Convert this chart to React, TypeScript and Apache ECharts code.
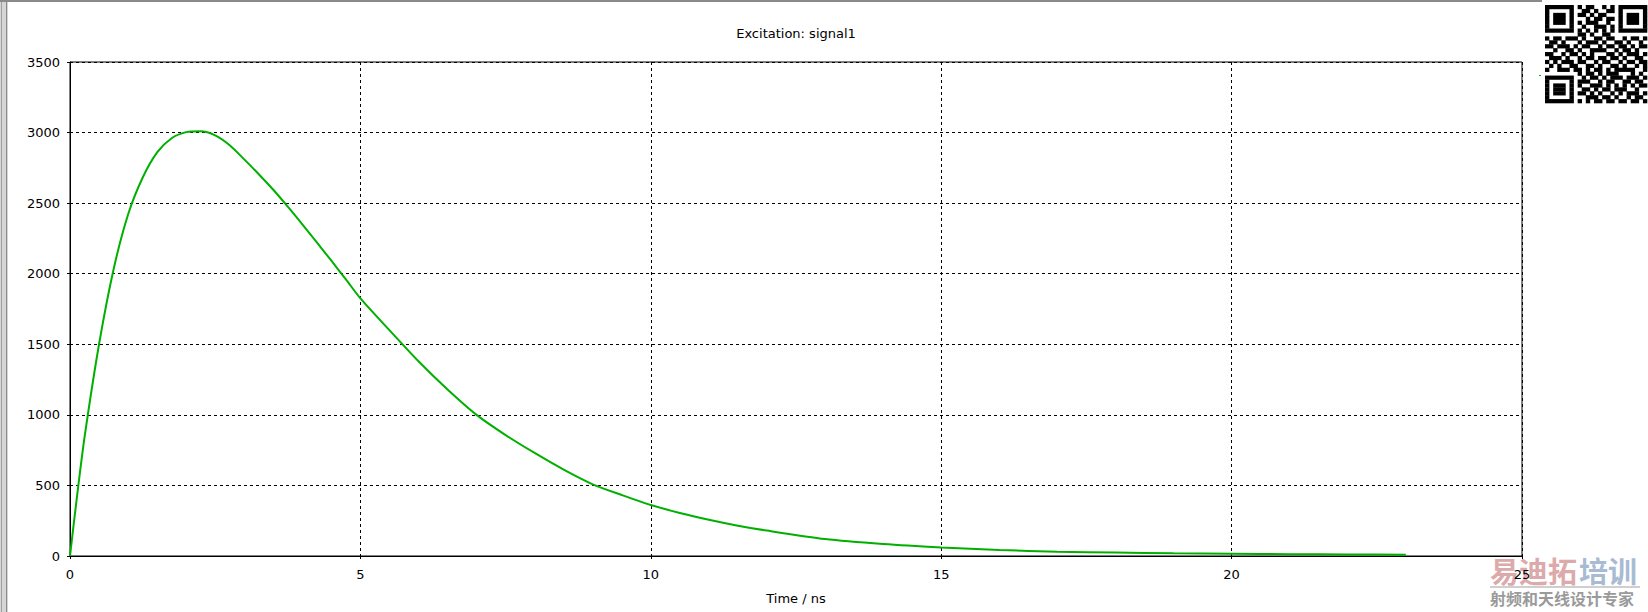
import React, { useEffect, useRef } from "react";
import * as echarts from "echarts";

const titleText = "Excitation: signal1";
const xAxisName = "Time / ns";
const xMin = 0;
const xMax = 25;
const xStep = 5;
const yMin = 0;
const yMax = 3500;
const yStep = 500;

const timeNs = [
  0, 0.12, 0.25, 0.5, 0.75, 1.0, 1.25, 1.5, 1.75, 2.0, 2.25, 2.5, 2.75, 3.0, 3.25, 3.5, 3.75, 4.0, 4.25, 4.5,
  4.75, 5.0, 5.5, 6.0, 6.5, 7.0, 7.5, 8.0, 8.5, 9.0, 9.5, 10, 10.5, 11, 11.5, 12, 13, 14, 15, 16, 17, 18, 19,
  20, 21, 22, 23,
];
const signal1 = [
  0, 420, 840, 1500, 2030, 2420, 2680, 2860, 2960, 3003, 3009, 2980, 2910, 2810, 2705, 2595, 2475, 2350, 2222,
  2092, 1960, 1825, 1600, 1380, 1180, 1000, 857, 730, 612, 508, 432, 361, 305, 257, 215, 180, 120, 85, 61, 43,
  30, 24, 19, 16, 13, 11, 9,
];

const watermarkMain1 = "易迪拓";
const watermarkMain2 = "培训";
const watermarkSub = "射频和天线设计专家";

const qrRows = [
  "1111111010110010101111111",
  "1000001001101001101000001",
  "1011101011010110001011101",
  "1011101000101101101011101",
  "1011101010111001001011101",
  "1000001001001110101000001",
  "1111111010101010101111111",
  "0000000011010011000000000",
  "1011011101001101100101101",
  "0110100010111010011010010",
  "1101110101100101101101011",
  "0010011010011110010110100",
  "1100101101010001101011101",
  "0111010010110110110100110",
  "1010111011001011001011011",
  "0101001100110100110100101",
  "1001110110101101011111001",
  "0000000010110101110001010",
  "1111111001011010111011101",
  "1000001011100101100110110",
  "1011101010011101010101011",
  "1011101001101011011100100",
  "1011101011010100101011101",
  "1000001000111011010010110",
  "1111111010101101101101101",
];

function qrGraphics() {
  const out: any[] = [];
  const x0 = 1545;
  const y0 = 5;
  const cw = 102 / 25;
  const ch = 98 / 25;
  qrRows.forEach((row, r) => {
    let c = 0;
    while (c < row.length) {
      if (row[c] === "1") {
        let e = c;
        while (e < row.length && row[e] === "1") e++;
        out.push({
          type: "rect",
          shape: { x: x0 + c * cw, y: y0 + r * ch, width: (e - c) * cw + 0.3, height: ch + 0.3 },
          style: { fill: "#000" },
          silent: true,
        });
        c = e;
      } else c++;
    }
  });
  return out;
}

export default function App() {
  const ref = useRef<HTMLDivElement>(null);
  useEffect(() => {
    if (!ref.current) return;
    const chart = echarts.init(ref.current, null, { renderer: "svg" });
    const font = "DejaVu Sans";
    chart.setOption({
      animation: false,
      backgroundColor: "#ffffff",
      grid: {
        left: 70,
        right: 126,
        top: 62,
        bottom: 56,
        show: true,
        borderColor: "#000",
        borderWidth: 1,
        backgroundColor: "#fff",
        outerBoundsMode: "none",
      },
      xAxis: {
        type: "value",
        min: xMin,
        max: xMax,
        interval: xStep,
        name: xAxisName,
        nameLocation: "middle",
        nameGap: 36,
        nameTextStyle: { color: "#000", fontFamily: font, fontSize: 13 },
        axisLine: { show: true, lineStyle: { color: "#000", width: 1 } },
        axisTick: { show: true, length: 3, lineStyle: { color: "#000" } },
        axisLabel: {
          color: "#000",
          fontFamily: font,
          fontSize: 13,
          margin: 12,
          formatter: (v: number) => String(v),
        },
        splitLine: { show: true, lineStyle: { color: "#000", width: 1, type: [3, 3] } },
      },
      yAxis: {
        type: "value",
        min: yMin,
        max: yMax,
        interval: yStep,
        axisLine: { show: true, lineStyle: { color: "#000", width: 1 } },
        axisTick: { show: true, length: 3, lineStyle: { color: "#000" } },
        axisLabel: {
          color: "#000",
          fontFamily: font,
          fontSize: 13,
          margin: 10,
          formatter: (v: number) => String(v),
        },
        splitLine: { show: true, lineStyle: { color: "#000", width: 1, type: [3, 3] } },
      },
      series: [
        {
          type: "line",
          name: "signal1",
          data: timeNs.map((t, i) => [t, signal1[i]]),
          smooth: 0.25,
          showSymbol: false,
          lineStyle: { color: "#00b000", width: 2 },
          z: 5,
        },
      ],
      graphic: [
        { type: "rect", shape: { x: 0, y: 0, width: 8, height: 612 }, style: { fill: "#d6d6d6" }, silent: true },
        { type: "rect", shape: { x: 1, y: 0, width: 1, height: 612 }, style: { fill: "#a0a0a0" }, silent: true },
        { type: "rect", shape: { x: 6, y: 0, width: 1, height: 612 }, style: { fill: "#8a8a8a" }, silent: true },
        { type: "rect", shape: { x: 0, y: 0, width: 1542, height: 2 }, style: { fill: "#8a8a8a" }, silent: true },
        {
          type: "text",
          x: 796,
          y: 33,
          style: {
            text: titleText,
            fill: "#000",
            font: `13px "${font}"`,
            textAlign: "center",
            textVerticalAlign: "middle",
          },
        },
        { type: "rect", shape: { x: 1539, y: 75, width: 2, height: 1 }, style: { fill: "#00b000" }, silent: true },
        ...qrGraphics(),
        {
          type: "text",
          x: 1490,
          y: 570,
          z: -1,
          style: {
            text: watermarkMain1,
            fill: "#dcaaaa",
            font: `bold 29px "Noto Sans CJK SC"`,
            textAlign: "left",
            textVerticalAlign: "middle",
          },
        },
        {
          type: "text",
          x: 1579,
          y: 570,
          z: -1,
          style: {
            text: watermarkMain2,
            fill: "#a9bbd3",
            font: `bold 29px "Noto Sans CJK SC"`,
            textAlign: "left",
            textVerticalAlign: "middle",
          },
        },
        { type: "rect", z: -1, shape: { x: 1490, y: 586, width: 150, height: 2 }, style: { fill: "#cfcfcf" }, silent: true },
        {
          type: "text",
          x: 1490,
          y: 598,
          z: -1,
          style: {
            text: watermarkSub,
            fill: "#9a9a9a",
            font: `bold 16px "Noto Sans CJK SC"`,
            textAlign: "left",
            textVerticalAlign: "middle",
          },
        },
      ],
    });
    return () => chart.dispose();
  }, []);
  return (
    <div
      ref={ref}
      style={{ position: "absolute", left: 0, top: 0, width: 1648, height: 612, background: "#fff" }}
    />
  );
}
